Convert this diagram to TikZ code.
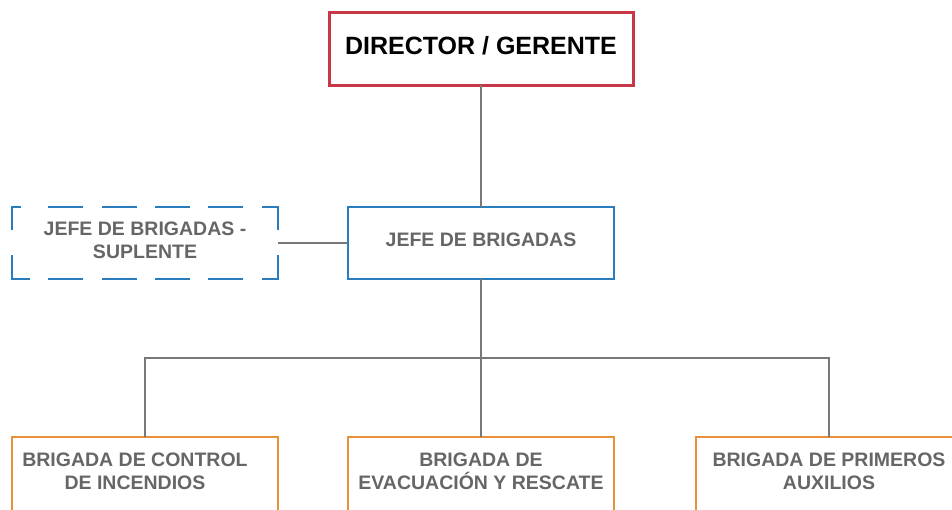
\documentclass[tikz,border=0pt]{standalone}
\usepackage{fontspec}
\setmainfont{Liberation Sans}
\definecolor{redb}{RGB}{200,55,70}
\definecolor{blueb}{RGB}{40,125,190}
\definecolor{orangeb}{RGB}{232,145,58}
\definecolor{txtgray}{RGB}{102,102,102}
\definecolor{linegray}{RGB}{120,120,120}
\begin{document}
\begin{tikzpicture}[x=1pt,y=-1pt,
  box/.style={draw, fill=white, inner sep=0pt, outer sep=0pt},
  lbl/.style={font=\fontsize{19.5}{23}\selectfont\bfseries, text=txtgray, align=center, inner sep=0pt},
  conn/.style={draw=linegray, line width=1.4pt}]
\useasboundingbox (0,0) rectangle (952,509);
% boxes
\node (dir) [box, draw=redb, line width=3pt, minimum width=304pt, minimum height=73pt] at (481,48.5) {};
\node (dirt) [inner sep=0pt, font=\fontsize{25}{30}\selectfont\bfseries] at (481,45.5) {DIRECTOR / GERENTE};
\node (jefe) [box, draw=blueb, line width=1.8pt, minimum width=266pt, minimum height=72pt] at (481,243) {};
\node (jefet) [lbl] at (481,240) {JEFE DE BRIGADAS};
\coordinate (sup) at (145,243);
\coordinate (supr) at (278,243);
\node (supt) [lbl] at (145,240.5) {JEFE DE BRIGADAS -\\SUPLENTE};
% dashed box pieces
\begin{scope}[draw=blueb, line width=1.8pt]
  \draw (12,230) -- (12,207) -- (21,207);
  \draw (48,207) -- (83,207);
  \draw (102,207) -- (137,207);
  \draw (155,207) -- (190,207);
  \draw (208,207) -- (243,207);
  \draw (262,207) -- (278,207) -- (278,230);
  \draw (12,255) -- (12,279) -- (30,279);
  \draw (48,279) -- (83,279);
  \draw (102,279) -- (137,279);
  \draw (155,279) -- (190,279);
  \draw (208,279) -- (243,279);
  \draw (262,279) -- (278,279) -- (278,255);
\end{scope}
% bottom boxes
\node (b1) [box, draw=orangeb, line width=1.8pt, minimum width=266pt, minimum height=76pt] at (145,475) {};
\node (b2) [box, draw=orangeb, line width=1.8pt, minimum width=266pt, minimum height=76pt] at (481,475) {};
\node (b3) [box, draw=orangeb, line width=1.8pt, minimum width=266pt, minimum height=76pt] at (829,475) {};
\node (b1t) [lbl] at (135,471) {BRIGADA DE CONTROL\\DE INCENDIOS};
\node (b2t) [lbl] at (481,471) {BRIGADA DE\\EVACUACIÓN Y RESCATE};
\node (b3t) [lbl] at (829,471) {BRIGADA DE PRIMEROS\\AUXILIOS};
% connectors
\coordinate (hub) at (481,358);
\draw[conn] (dir.south) -- (jefe.north);
\draw[conn] (supr) -- (jefe.west);
\draw[conn] (jefe.south) -- (hub);
\draw[conn] (hub) -| (b1.north);
\draw[conn] (hub) -- (b2.north);
\draw[conn] (hub) -| (b3.north);
\end{tikzpicture}
\end{document}
